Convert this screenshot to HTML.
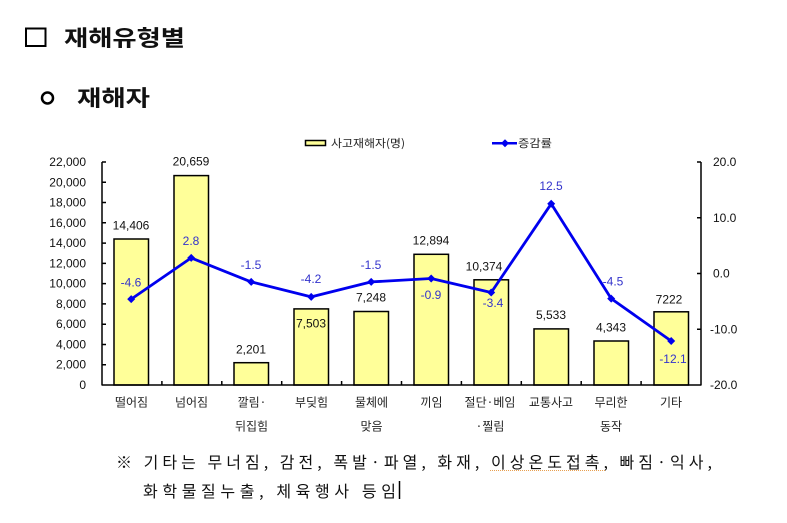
<!DOCTYPE html>
<html><head><meta charset="utf-8"><style>
html,body{margin:0;padding:0;background:#fff;}
svg{display:block;}
text{font-family:"Liberation Sans","Noto Sans CJK KR",sans-serif;}
.k{font-family:"Noto Sans CJK KR","NanumGothic",sans-serif;}
</style></head><body>
<svg width="787" height="523" viewBox="0 0 787 523" xmlns="http://www.w3.org/2000/svg">
<!-- headings -->
<rect x="26" y="28.5" width="19.5" height="17.5" fill="none" stroke="#000" stroke-width="2"/>
<text class="k" x="64" y="37" dominant-baseline="central" font-size="22" font-weight="700" textLength="121" lengthAdjust="spacingAndGlyphs" fill="#111">재해유형별</text>
<circle cx="47.5" cy="98" r="5.5" fill="none" stroke="#000" stroke-width="2.5"/>
<text class="k" x="77" y="97" dominant-baseline="central" font-size="22" font-weight="700" textLength="73" lengthAdjust="spacingAndGlyphs" fill="#111">재해자</text>

<!-- legend -->
<rect x="305.5" y="140.5" width="20" height="5" fill="#FFFF99" stroke="#000" stroke-width="1.5"/>
<text class="k" x="331" y="143" dominant-baseline="central" font-size="11" textLength="74" lengthAdjust="spacingAndGlyphs" fill="#222">사고재해자(명)</text>
<line x1="492" y1="143.3" x2="517" y2="143.3" stroke="#0000EE" stroke-width="2.5"/>
<polygon points="505,139.3 509,143.3 505,147.3 501,143.3" fill="#0000EE"/>
<text class="k" x="518" y="143" dominant-baseline="central" font-size="11" textLength="34" lengthAdjust="spacingAndGlyphs" fill="#222">증감률</text>

<!-- left axis labels -->
<g font-size="12" fill="#111" text-anchor="end" dominant-baseline="central">
<text x="86" y="162">22,000</text>
<text x="86" y="182.3">20,000</text>
<text x="86" y="202.5">18,000</text>
<text x="86" y="222.8">16,000</text>
<text x="86" y="243.1">14,000</text>
<text x="86" y="263.4">12,000</text>
<text x="86" y="283.6">10,000</text>
<text x="86" y="303.9">8,000</text>
<text x="86" y="324.2">6,000</text>
<text x="86" y="344.5">4,000</text>
<text x="86" y="364.7">2,000</text>
<text x="86" y="385">0</text>
</g>
<!-- right axis labels -->
<g font-size="12" fill="#111" dominant-baseline="central">
<text x="713" y="162">20.0</text>
<text x="713" y="217.8">10.0</text>
<text x="713" y="273.5">0.0</text>
<text x="710" y="329.3">-10.0</text>
<text x="710" y="385">-20.0</text>
</g>

<!-- bars -->
<g fill="#FFFF99" stroke="#000" stroke-width="1.5">
<rect x="114" y="239" width="34.5" height="146"/>
<rect x="174" y="175.6" width="34.5" height="209.4"/>
<rect x="234" y="362.7" width="34.5" height="22.3"/>
<rect x="294" y="308.9" width="34.5" height="76.1"/>
<rect x="354" y="311.5" width="34.5" height="73.5"/>
<rect x="414" y="254.3" width="34.5" height="130.7"/>
<rect x="474" y="279.8" width="34.5" height="105.2"/>
<rect x="534" y="328.9" width="34.5" height="56.1"/>
<rect x="594" y="341" width="34.5" height="44"/>
<rect x="654" y="311.8" width="34.5" height="73.2"/>
</g>

<!-- axes -->
<g stroke="#000" stroke-width="1.5" fill="none">
<line x1="102" y1="162" x2="102" y2="385"/>
<line x1="701" y1="162" x2="701" y2="385"/>
<line x1="101.5" y1="385" x2="701.5" y2="385"/>
<path d="M102 162h4M102 182.3h4M102 202.5h4M102 222.8h4M102 243.1h4M102 263.4h4M102 283.6h4M102 303.9h4M102 324.2h4M102 344.5h4M102 364.7h4"/>
<path d="M701 162h-4M701 217.8h-4M701 273.5h-4M701 329.3h-4"/>
<path d="M161.9 385v-4M221.8 385v-4M281.7 385v-4M341.6 385v-4M401.5 385v-4M461.4 385v-4M521.3 385v-4M581.2 385v-4M641.1 385v-4"/>
</g>

<!-- line -->
<polyline points="131.2,299.1 191.2,257.9 251.2,281.9 311.2,296.9 371.2,281.9 431.2,278.5 491.2,292.5 551.2,203.8 611.2,298.6 671.2,341" fill="none" stroke="#0000EE" stroke-width="2.8" stroke-linejoin="round"/>
<g fill="#0000EE">
<polygon points="131.2,295.1 135.2,299.1 131.2,303.1 127.2,299.1"/>
<polygon points="191.2,253.9 195.2,257.9 191.2,261.9 187.2,257.9"/>
<polygon points="251.2,277.9 255.2,281.9 251.2,285.9 247.2,281.9"/>
<polygon points="311.2,292.9 315.2,296.9 311.2,300.9 307.2,296.9"/>
<polygon points="371.2,277.9 375.2,281.9 371.2,285.9 367.2,281.9"/>
<polygon points="431.2,274.5 435.2,278.5 431.2,282.5 427.2,278.5"/>
<polygon points="491.2,288.5 495.2,292.5 491.2,296.5 487.2,292.5"/>
<polygon points="551.2,199.8 555.2,203.8 551.2,207.8 547.2,203.8"/>
<polygon points="611.2,294.6 615.2,298.6 611.2,302.6 607.2,298.6"/>
<polygon points="671.2,337 675.2,341 671.2,345 667.2,341"/>
</g>

<!-- bar value labels -->
<g font-size="12" fill="#111" text-anchor="middle" dominant-baseline="central">
<text x="131" y="225.7">14,406</text>
<text x="191" y="161.7">20,659</text>
<text x="251" y="349.3">2,201</text>
<text x="311" y="323.3">7,503</text>
<text x="371" y="297.5">7,248</text>
<text x="431" y="240.7">12,894</text>
<text x="484" y="266.7">10,374</text>
<text x="551" y="315">5,533</text>
<text x="611" y="327.3">4,343</text>
<text x="669" y="299.3">7222</text>
</g>
<!-- rate labels -->
<g font-size="12" fill="#3333CC" text-anchor="middle" dominant-baseline="central">
<text x="131" y="282.7">-4.6</text>
<text x="191" y="241">2.8</text>
<text x="251" y="265">-1.5</text>
<text x="311" y="279">-4.2</text>
<text x="371" y="265">-1.5</text>
<text x="431" y="295">-0.9</text>
<text x="493" y="303">-3.4</text>
<text x="551" y="186">12.5</text>
<text x="613" y="281.7">-4.5</text>
<text x="673" y="359">-12.1</text>
</g>

<!-- category labels -->
<g class="k" font-size="12" fill="#222" text-anchor="middle" dominant-baseline="central">
<text class="k" x="131.5" y="402">떨어짐</text>
<text class="k" x="191.5" y="402">넘어짐</text>
<text class="k" x="252" y="402">깔림·</text>
<text class="k" x="251.5" y="426">뒤집힘</text>
<text class="k" x="311.5" y="402">부딪힘</text>
<text class="k" x="371.5" y="402">물체에</text>
<text class="k" x="371.5" y="426">맞음</text>
<text class="k" x="431.5" y="402">끼임</text>
<text class="k" x="490" y="402">절단·베임</text>
<text class="k" x="490" y="426">·찔림</text>
<text class="k" x="551" y="402">교통사고</text>
<text class="k" x="611" y="402">무리한</text>
<text class="k" x="611" y="426">동작</text>
<text class="k" x="671" y="402">기타</text>
</g>

<!-- note -->
<text class="k" x="116" y="461" dominant-baseline="central" font-size="16" textLength="596" lengthAdjust="spacing" fill="#111">※ 기타는 무너짐, 감전, 폭발·파열, 화재, 이상온도접촉, 빠짐·익사,</text>
<line x1="490" y1="470.5" x2="605" y2="470.5" stroke="#E8A050" stroke-width="1" stroke-dasharray="1,1"/>
<text class="k" x="143" y="490" dominant-baseline="central" font-size="16" textLength="253" lengthAdjust="spacing" fill="#111">화학물질누출, 체육행사 등임</text>
<line x1="399.5" y1="481" x2="399.5" y2="499" stroke="#000" stroke-width="1.5"/>
</svg>
</body></html>
